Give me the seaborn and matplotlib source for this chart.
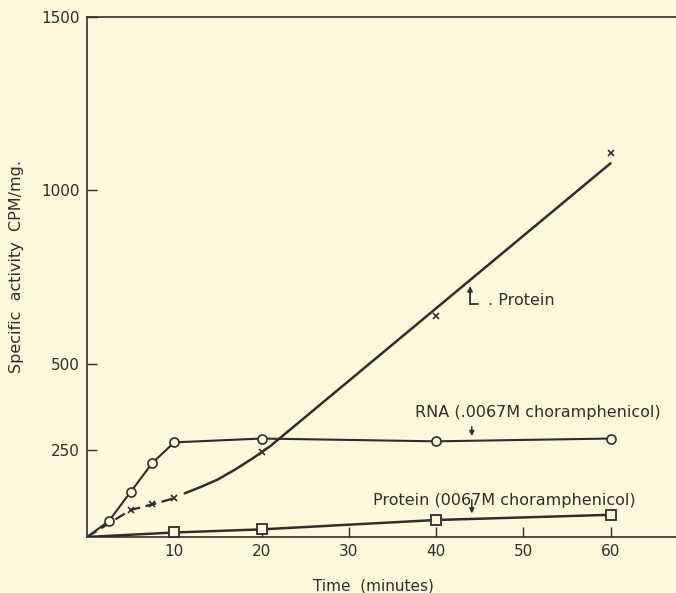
import numpy as np
import pandas as pd
import matplotlib.pyplot as plt
import seaborn as sns

# Values: time (minutes) vs specific activity (CPM/mg)
rna_time = [2.5, 5, 7.5, 10, 20, 40, 60]
rna_value = [46, 130, 214, 273, 284, 276, 284]

protein_time = [5, 7.5, 10, 20, 40, 60]
protein_value = [78, 94, 112, 244, 637, 1107]

# drawn curve through the protein points (no chloramphenicol)
protein_fit_time = [11.2, 13.1, 15, 17, 19, 21, 60]
protein_fit_value = [126, 145, 166, 195, 227, 262, 1078]

protein_cap_time = [10, 20, 40, 60]
protein_cap_value = [13, 22, 49, 64]

y_ticks = [250, 500, 1000, 1500]
x_ticks = [10, 20, 30, 40, 50, 60]

ink = '#2f2e29'
bg = '#fdf8dc'

sns.set_style('ticks')
plt.rcParams['font.family'] = ['DejaVu Sans']
plt.rcParams['text.color'] = ink

fig = plt.figure(figsize=(6.76, 5.93), dpi=100, facecolor=bg)
ax = fig.add_axes([87 / 676, 56 / 593, 1 - 87 / 676, 520 / 593])
ax.set_facecolor(bg)

# lines (all start at the origin)
sns.lineplot(x=[0] + protein_time[:3], y=[0] + protein_value[:3], ax=ax,
             color=ink, lw=1.6, linestyle=(0, (5, 2.5)),
             sort=False, estimator=None)
sns.lineplot(x=protein_fit_time, y=protein_fit_value, ax=ax,
             color=ink, lw=1.8, sort=False, estimator=None)
sns.lineplot(x=[0] + rna_time, y=[0] + rna_value, ax=ax,
             color=ink, lw=1.5, sort=False, estimator=None)
sns.lineplot(x=[0] + protein_cap_time, y=[0] + protein_cap_value, ax=ax,
             color=ink, lw=1.8, sort=False, estimator=None)

# markers
ax.plot(rna_time, rna_value, ls='none', marker='o', ms=6.5,
        mfc=bg, mec=ink, mew=1.2, zorder=4)
ax.plot(protein_time, protein_value, ls='none', marker='x', ms=5,
        mec=ink, mew=1.2, zorder=4)
ax.plot(protein_cap_time, protein_cap_value, ls='none', marker='s', ms=6.5,
        mfc=bg, mec=ink, mew=1.3, zorder=4)

# labels on the curves
ax.text(37.6, 359, 'RNA (.0067M choramphenicol)', fontsize=11.5,
        va='center', ha='left')
ax.annotate('', xy=(44.1, 291), xytext=(44.1, 318),
            arrowprops=dict(arrowstyle='-|>', color=ink, lw=1.1,
                            mutation_scale=7, shrinkA=0, shrinkB=0))

ax.text(32.8, 105, 'Protein (0067M choramphenicol)', fontsize=11.5,
        va='center', ha='left')
ax.annotate('', xy=(44.1, 68), xytext=(44.1, 108),
            arrowprops=dict(arrowstyle='-|>', color=ink, lw=1.1,
                            mutation_scale=7, shrinkA=0, shrinkB=0))

ax.annotate('', xy=(43.9, 724), xytext=(43.9, 672),
            arrowprops=dict(arrowstyle='-|>', color=ink, lw=1.3,
                            mutation_scale=7, shrinkA=0, shrinkB=0))
ax.plot([43.9, 44.8], [672, 672], color=ink, lw=1.3)
ax.text(45.9, 683, '. Protein', fontsize=11.5, va='center', ha='left')

# axes
ax.set_xlim(0, 67.5)
ax.set_ylim(0, 1500)
ax.set_xticks(x_ticks)
ax.set_yticks(y_ticks)
ax.set_xticklabels([str(t) for t in x_ticks])
ax.set_yticklabels([str(t) for t in y_ticks])
ax.tick_params(direction='in', length=7, width=1, colors=ink,
               labelsize=11, pad=5)
for side in ['left', 'bottom', 'top']:
    ax.spines[side].set_color(ink)
    ax.spines[side].set_linewidth(1.2)
ax.spines['right'].set_visible(False)

ax.set_xlabel('Time  (minutes)', fontsize=11, color=ink)
ax.set_ylabel('Specific  activity  CPM/mg.', fontsize=11.5, color=ink)
ax.xaxis.set_label_coords(0.486, -0.079)
ax.yaxis.set_label_coords(-0.107, 0.52)

fig.savefig('out.png', dpi=100, facecolor=bg)
